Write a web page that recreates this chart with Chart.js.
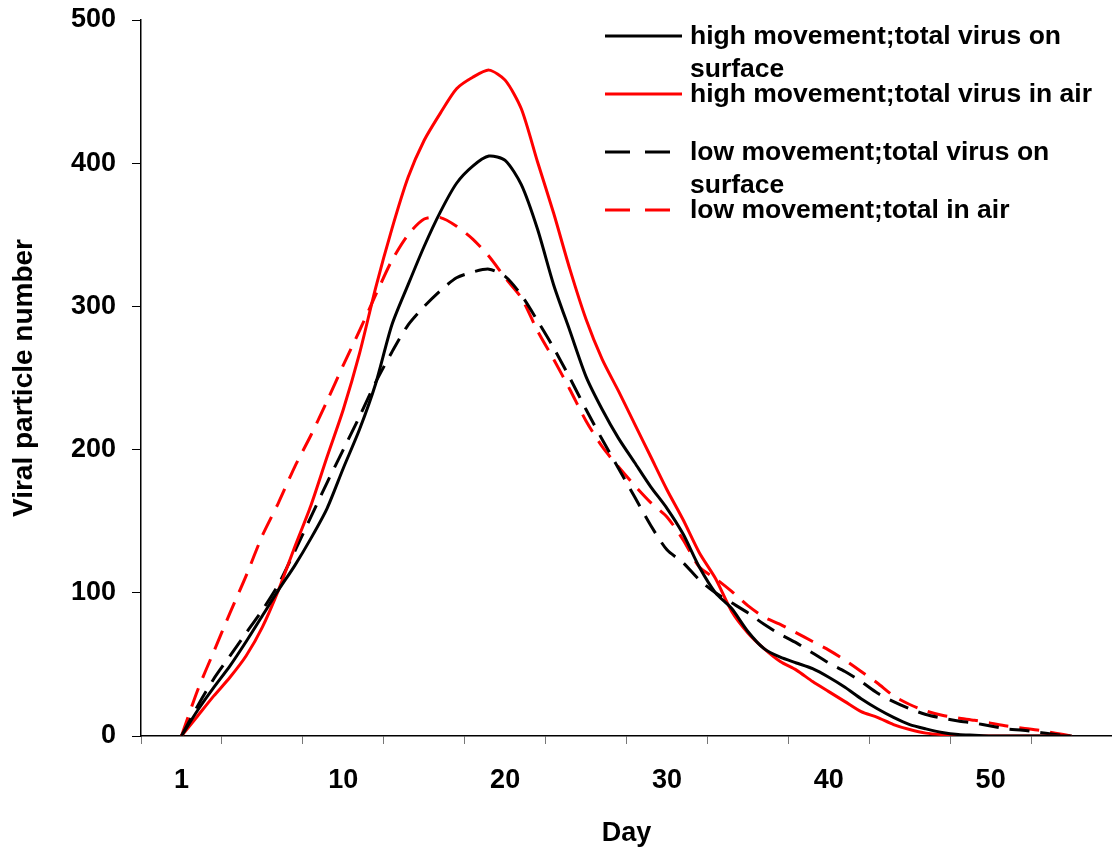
<!DOCTYPE html>
<html>
<head>
<meta charset="utf-8">
<script src="https://cdn.jsdelivr.net/npm/chart.js@4.4.1/dist/chart.umd.min.js"></script>
<style>
  html, body { margin: 0; padding: 0; background: #fff; }
  #wrap { width: 1112px; height: 852px; position: relative; }
</style>
</head>
<body>
<div id="wrap"><canvas id="myChart"></canvas></div>
<script>
// one value per day, first point is day 1 (index 0)
const highSurface = [0, 18, 34, 49, 66, 84, 102, 119, 138, 159,
  187, 214, 246, 287, 315, 342, 366, 386, 398, 405,
  402, 385, 354, 315, 283, 251, 228, 208, 191, 174,
  159, 141, 118, 100, 89, 73, 61, 55, 51, 47,
  41, 34, 26, 19, 13, 8, 5, 2.5, 1, 0.5,
  0, 0, 0, 0, 0, 0];
const highAir = [0, 14, 28, 41, 56, 76, 102, 132, 161, 195,
  228, 267, 313, 354, 390, 416, 435, 452, 460, 465,
  458, 438, 401, 365, 326, 291, 263, 241, 218, 195,
  172, 151, 128, 110, 87, 72, 61, 52, 46, 38,
  31, 24, 17, 13, 8, 4.5, 2, 1, 0.5, 0,
  0, 0, 0, 0, 0, 0];
const lowSurface = [0, 21, 40, 56, 72, 88, 106, 129, 153, 177,
  200, 223, 247, 268, 287, 300, 311, 320, 324, 326,
  321, 308, 290, 271, 250, 228, 207, 187, 167, 147,
  130, 121, 109, 100, 93, 86, 78, 71, 65, 58,
  51, 45, 38, 30, 24, 19, 15, 12.5, 10.5, 9,
  7, 5, 4, 2.5, 1, 0];
const lowAir = [0, 32, 59, 86, 112, 140, 163, 188, 210, 234,
  259, 283, 308, 332, 350, 361, 362, 356, 347, 335,
  320, 306, 283, 263, 242, 220, 202, 188, 175, 163,
  153, 137, 118, 110, 101, 91, 83, 78, 72, 66,
  60, 53, 45, 37, 28, 22, 17.5, 14.5, 12.5, 11,
  9, 7, 5.5, 4, 2, 0];

const seriesNames = [
  'high movement;total virus on surface',
  'high movement;total virus in air',
  'low movement;total virus on surface',
  'low movement;total in air'
];

// x tick labels (index of the point they sit under, and the text)
const dayTickIndex = [0, 10, 20, 30, 40, 50];
const dayTickText = ['1', '10', '20', '30', '40', '50'];

const FONT = '"Liberation Sans", Arial, Helvetica, sans-serif';
Chart.defaults.font.family = FONT;
Chart.defaults.color = '#000';

function pts(arr) {
  return arr.map((v, i) => ({ x: i, y: v }));
}

// draws the legend box in the top right, like the original
const legendBox = {
  id: 'legendBox',
  afterDraw(chart) {
    const ctx = chart.ctx;
    const rows = [36, 94, 152, 210];
    ctx.save();
    ctx.font = 'bold 26.5px ' + FONT;
    ctx.textBaseline = 'middle';
    ctx.textAlign = 'left';
    chart.data.datasets.forEach((ds, i) => {
      const y = rows[i];
      ctx.strokeStyle = ds.borderColor;
      ctx.lineWidth = 3;
      if (ds.borderDash) {
        ctx.setLineDash([25, 15]);
        ctx.beginPath(); ctx.moveTo(605, y); ctx.lineTo(670, y); ctx.stroke();
      } else {
        ctx.setLineDash([]);
        ctx.beginPath(); ctx.moveTo(605, y); ctx.lineTo(682, y); ctx.stroke();
      }
      ctx.setLineDash([]);
      ctx.fillStyle = '#000';
      // wrap the text like excel did
      const words = ds.label.split(' ');
      let lines = [], cur = '';
      words.forEach(w => {
        const test = cur ? cur + ' ' + w : w;
        if (ctx.measureText(test).width > 415 && cur) { lines.push(cur); cur = w; }
        else cur = test;
      });
      lines.push(cur);
      lines.forEach((l, k) => ctx.fillText(l, 690, y + 1 + k * 33));
    });
    ctx.restore();
  }
};

const ctx = document.getElementById('myChart');

new Chart(ctx, {
  type: 'line',
  data: {
    datasets: [
      { label: seriesNames[0], data: pts(highSurface), borderColor: '#000000', borderWidth: 3 },
      { label: seriesNames[1], data: pts(highAir), borderColor: '#ff0000', borderWidth: 3 },
      { label: seriesNames[2], data: pts(lowSurface), borderColor: '#000000', borderWidth: 3, borderDash: [20, 11] },
      { label: seriesNames[3], data: pts(lowAir), borderColor: '#ff0000', borderWidth: 3, borderDash: [20, 11] }
    ]
  },
  options: {
    responsive: true,
    maintainAspectRatio: false,
    animation: false,
    layout: { padding: { top: 20, right: 0, left: 0, bottom: 0 } },
    elements: {
      point: { radius: 0 },
      line: { tension: 0.25, fill: false }
    },
    plugins: {
      legend: { display: false },
      tooltip: { enabled: false }
    },
    scales: {
      x: {
        type: 'linear',
        min: -2.5,
        max: 57.5,
        afterFit: (s) => { s.height = 116; s.paddingLeft = 0; s.paddingRight = 0; },
        afterBuildTicks: (s) => {
          const t = [];
          for (let v = -2.5; v <= 57.5; v += 5) t.push({ value: v });
          dayTickIndex.forEach(v => t.push({ value: v }));
          t.sort((a, b) => a.value - b.value);
          s.ticks = t;
        },
        border: { color: '#000', width: 1.5 },
        grid: {
          drawOnChartArea: false,
          tickLength: 8,
          tickWidth: 1,
          tickColor: (c) => (dayTickIndex.includes(c.tick && c.tick.value) ? 'rgba(0,0,0,0)' : '#777')
        },
        ticks: {
          autoSkip: false,
          maxRotation: 0,
          padding: 20,
          font: { size: 27, weight: 'bold' },
          callback: (v) => {
            const k = dayTickIndex.indexOf(v);
            return k >= 0 ? dayTickText[k] : '';
          }
        },
        title: {
          display: true,
          text: 'Day',
          font: { size: 27, weight: 'bold' },
          padding: { top: 0, bottom: 2 }
        }
      },
      y: {
        min: 0,
        max: 500,
        afterFit: (s) => { s.width = 141; s.paddingTop = 0; s.paddingBottom = 0; },
        border: { color: '#000', width: 1.5 },
        grid: { drawOnChartArea: false, tickLength: 9, tickColor: '#000' },
        ticks: {
          stepSize: 100,
          padding: 16,
          font: { size: 27, weight: 'bold' }
        },
        title: {
          display: true,
          text: 'Viral particle number',
          font: { size: 28, weight: 'bold' },
          padding: { top: 7, bottom: 0 }
        }
      }
    }
  },
  plugins: [legendBox]
});
</script>
</body>
</html>
